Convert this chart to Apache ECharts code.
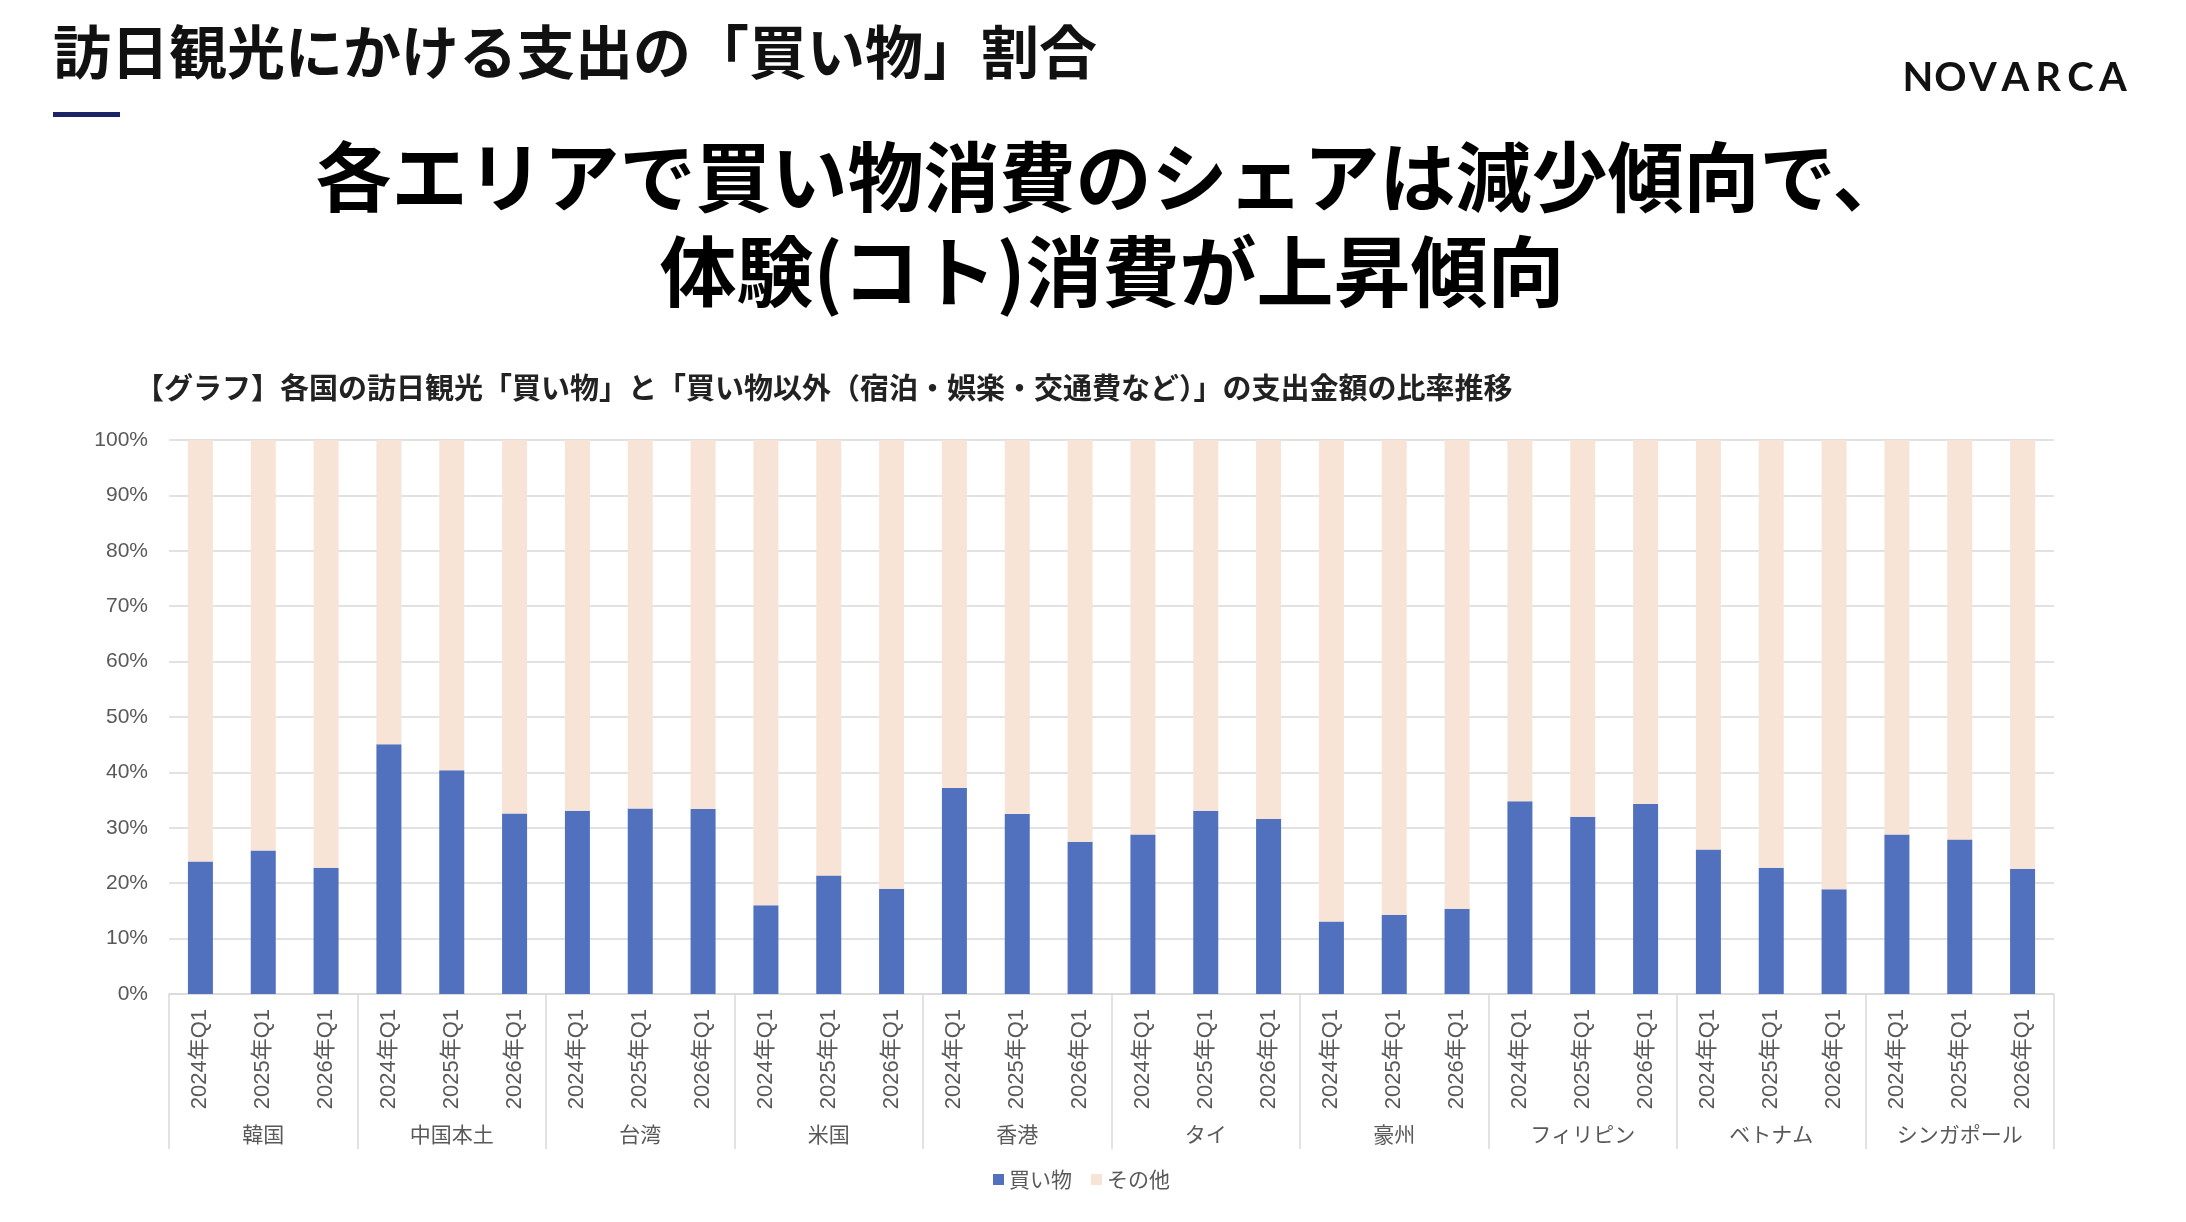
<!DOCTYPE html>
<html>
<head>
<meta charset="utf-8">
<script src="https://cdn.jsdelivr.net/npm/echarts@6/dist/echarts.min.js"></script>
<style>
html,body{margin:0;padding:0;background:#fff;}
#chart{width:2186px;height:1222px;}
</style>
</head>
<body>
<div id="chart"></div>
<script>
const groups = ['韓国','中国本土','台湾','米国','香港','タイ','豪州','フィリピン','ベトナム','シンガポール'];
const periods = ['2024年Q1','2025年Q1','2026年Q1'];
const shopping = [
  23.9, 25.9, 22.8,
  45.1, 40.4, 32.6,
  33.1, 33.5, 33.4,
  16.0, 21.4, 19.0,
  37.2, 32.5, 27.5,
  28.8, 33.1, 31.6,
  13.1, 14.3, 15.4,
  34.8, 32.0, 34.3,
  26.1, 22.8, 18.9,
  28.8, 27.9, 22.6
];
const others = [
  76.1, 74.1, 77.2,
  54.9, 59.6, 67.4,
  66.9, 66.5, 66.6,
  84.0, 78.6, 81.0,
  62.8, 67.5, 72.5,
  71.2, 66.9, 68.4,
  86.9, 85.7, 84.6,
  65.2, 68.0, 65.7,
  73.9, 77.2, 81.1,
  71.2, 72.1, 77.4
];
const yTicks = [0,10,20,30,40,50,60,70,80,90,100];
const seriesNames = ['買い物','その他'];

const categories = [];
groups.forEach(g => periods.forEach(p => categories.push(p)));

const JP = "'Noto Sans CJK JP','Noto Sans',sans-serif";
const AX = "'Liberation Sans',Arial,'Noto Sans CJK JP',sans-serif";
const gray = '#595959';
const lineGray = '#d9d9d9';

const chart = echarts.init(document.getElementById('chart'));

const logo = 'NOVARCA'.split('');
const logoEls = logo.map((ch, i) => ({
  type: 'text',
  x: 1918 + i * 32.5,
  y: 78,
  style: {
    text: ch, fill: '#111', font: "bold 40px 'Lato','Open Sans',sans-serif",
    align: 'center', verticalAlign: 'middle'
  }
}));

chart.setOption({
  backgroundColor: '#fff',
  animation: false,
  grid: { left: 169, right: 132, top: 440, bottom: 228, containLabel: false },
  legend: {
    data: seriesNames,
    left: 988, top: 1164,
    icon: 'rect', itemWidth: 11, itemHeight: 11, itemGap: 19,
    textStyle: { fontFamily: JP, fontSize: 21, color: gray }
  },
  xAxis: [
    {
      type: 'category',
      data: categories,
      position: 'bottom',
      axisLine: { show: true, lineStyle: { color: lineGray, width: 1.5 } },
      axisTick: { show: false },
      axisLabel: {
        interval: 0, rotate: 90, margin: 15,
        fontFamily: AX, fontSize: 22, color: gray
      }
    },
    {
      type: 'category',
      data: groups,
      position: 'bottom',
      axisLine: { show: false },
      axisTick: { show: true, length: 155, interval: 0, lineStyle: { color: lineGray, width: 1.5 } },
      axisLabel: {
        interval: 0, margin: 130,
        fontFamily: JP, fontSize: 21, color: gray
      },
      splitLine: { show: false }
    }
  ],
  yAxis: {
    type: 'value',
    min: yTicks[0], max: yTicks[yTicks.length - 1], interval: 10,
    axisLine: { show: false },
    axisTick: { show: false },
    splitLine: { show: true, lineStyle: { color: lineGray, width: 1.5 } },
    axisLabel: {
      formatter: '{value}%', margin: 21,
      fontFamily: AX, fontSize: 21, color: gray
    }
  },
  series: [
    {
      name: seriesNames[0], type: 'bar', stack: 'total', barWidth: 25,
      itemStyle: { color: '#5171be' }, data: shopping, xAxisIndex: 0
    },
    {
      name: seriesNames[1], type: 'bar', stack: 'total', barWidth: 25,
      itemStyle: { color: '#f7e4d6' }, data: others, xAxisIndex: 0
    }
  ],
  graphic: [
    {
      type: 'text', x: 53, y: 52,
      style: { text: '訪日観光にかける支出の「買い物」割合', fill: '#111',
        font: "bold 58px " + JP, align: 'left', verticalAlign: 'middle' }
    },
    {
      type: 'rect', shape: { x: 53, y: 112, width: 67, height: 5 },
      style: { fill: '#1b2468' }
    },
    {
      type: 'text', x: 1112, y: 177,
      style: { text: '各エリアで買い物消費のシェアは減少傾向で、', fill: '#000',
        font: "bold 76px " + JP, align: 'center', verticalAlign: 'middle' }
    },
    {
      type: 'text', x: 1112, y: 272,
      style: { text: '体験(コト)消費が上昇傾向', fill: '#000',
        font: "bold 77px " + JP, align: 'center', verticalAlign: 'middle' }
    },
    {
      type: 'text', x: 135, y: 388,
      style: { text: '【グラフ】各国の訪日観光「買い物」と「買い物以外（宿泊・娯楽・交通費など）」の支出金額の比率推移', fill: '#222',
        font: "bold 29px " + JP, align: 'left', verticalAlign: 'middle' }
    }
  ].concat(logoEls)
});
</script>
</body>
</html>
